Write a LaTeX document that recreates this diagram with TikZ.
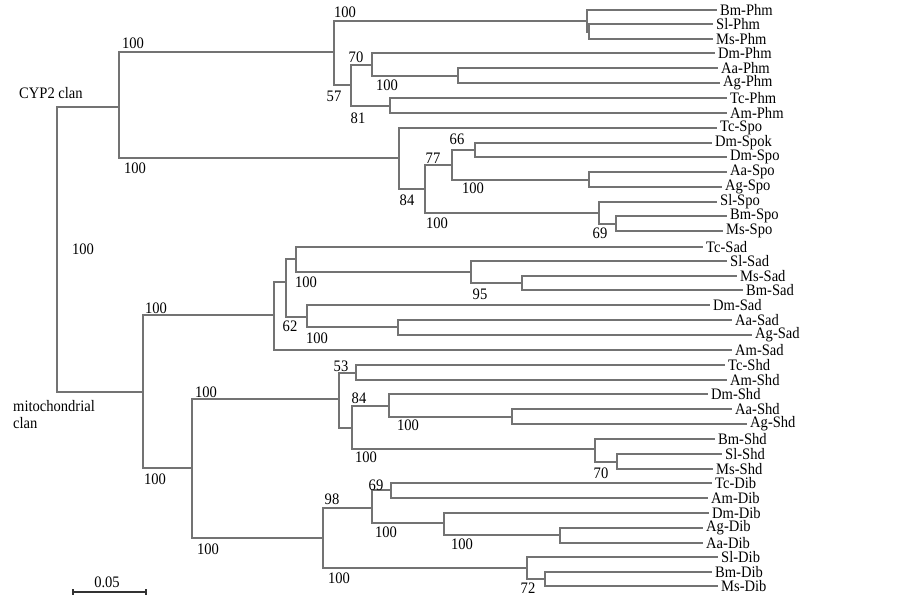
\documentclass[tikz,border=0pt]{standalone}
\usepackage{fontspec}
\setmainfont{Liberation Serif}[FakeStretch=0.91]
\usepackage{tikz}

\tikzset{
  br/.style={draw=black!55, line width=1.2pt},
  taxon/.style={anchor=west, inner xsep=3pt, inner ysep=0pt},
  bs/.style={inner sep=0pt}
}

\begin{document}
\begin{tikzpicture}[x=1pt,y=-1pt,font=\fontsize{16}{17}\selectfont]
\useasboundingbox (0,0) rectangle (902,596);

% inner nodes, CYP2 clan
\coordinate (r) at (57,250);
\coordinate (cyp) at (119,107);
\coordinate (phm) at (334,52);
\coordinate (bsm) at (587,21);
\coordinate (sm) at (589,32);
\coordinate (n57) at (351,85);
\coordinate (n70) at (372,65);
\coordinate (aag) at (458,76);
\coordinate (n81) at (390,106);
\coordinate (spo) at (399,158);
\coordinate (n77) at (425,189);
\coordinate (n66) at (452,165);
\coordinate (dsp) at (475,150);
\coordinate (aags) at (589,180);
\coordinate (n69) at (599,213);
\coordinate (bms) at (616,224);
% inner nodes, mitochondrial clan
\coordinate (mito) at (143,392);
\coordinate (sad) at (274,315);
\coordinate (s286) at (286,282);
\coordinate (s296) at (296,259);
\coordinate (s95) at (471,272);
\coordinate (msb) at (522,283);
\coordinate (s62) at (307,317);
\coordinate (aas) at (398,327);
\coordinate (mid) at (192,468);
\coordinate (shd) at (339,399);
\coordinate (n53) at (356,373);
\coordinate (n84) at (352,428);
\coordinate (h389) at (389,406);
\coordinate (h512) at (512,417);
\coordinate (h70) at (595,449);
\coordinate (h617) at (617,462);
\coordinate (dib) at (323,538);
\coordinate (d69) at (372,508);
\coordinate (d391) at (391,490);
\coordinate (d444) at (444,523);
\coordinate (d560) at (560,535);
\coordinate (d72) at (527,568);
\coordinate (d545) at (545,579);

% taxa
\node[taxon] (BmPhm) at (717,10) {Bm-Phm};
\node[taxon] (SlPhm) at (713,24) {Sl-Phm};
\node[taxon] (MsPhm) at (713,39) {Ms-Phm};
\node[taxon] (DmPhm) at (715,53) {Dm-Phm};
\node[taxon] (AaPhm) at (718,68) {Aa-Phm};
\node[taxon] (AgPhm) at (720,83) {Ag-Phm};
\node[taxon] (TcPhm) at (727,98) {Tc-Phm};
\node[taxon] (AmPhm) at (727,113) {Am-Phm};
\node[taxon] (TcSpo) at (717,128) {Tc-Spo};
\node[taxon] (DmSpok) at (712,143) {Dm-Spok};
\node[taxon] (DmSpo) at (727,157) {Dm-Spo};
\node[taxon] (AaSpo) at (727,172) {Aa-Spo};
\node[taxon] (AgSpo) at (722,187) {Ag-Spo};
\node[taxon] (SlSpo) at (717,202) {Sl-Spo};
\node[taxon] (BmSpo) at (727,216) {Bm-Spo};
\node[taxon] (MsSpo) at (723,231) {Ms-Spo};
\node[taxon] (TcSad) at (703,247) {Tc-Sad};
\node[taxon] (SlSad) at (727,261) {Sl-Sad};
\node[taxon] (MsSad) at (737,276) {Ms-Sad};
\node[taxon] (BmSad) at (743,290) {Bm-Sad};
\node[taxon] (DmSad) at (710,305) {Dm-Sad};
\node[taxon] (AaSad) at (732,320) {Aa-Sad};
\node[taxon] (AgSad) at (752,335) {Ag-Sad};
\node[taxon] (AmSad) at (732,350) {Am-Sad};
\node[taxon] (TcShd) at (725,365) {Tc-Shd};
\node[taxon] (AmShd) at (727,380) {Am-Shd};
\node[taxon] (DmShd) at (708,394) {Dm-Shd};
\node[taxon] (AaShd) at (732,409) {Aa-Shd};
\node[taxon] (AgShd) at (747,424) {Ag-Shd};
\node[taxon] (BmShd) at (715,439) {Bm-Shd};
\node[taxon] (SlShd) at (722,454) {Sl-Shd};
\node[taxon] (MsShd) at (713,469) {Ms-Shd};
\node[taxon] (TcDib) at (712,483) {Tc-Dib};
\node[taxon] (AmDib) at (708,498) {Am-Dib};
\node[taxon] (DmDib) at (709,513) {Dm-Dib};
\node[taxon] (AgDib) at (703,528) {Ag-Dib};
\node[taxon] (AaDib) at (703,543) {Aa-Dib};
\node[taxon] (SlDib) at (718,557) {Sl-Dib};
\node[taxon] (BmDib) at (712,572) {Bm-Dib};
\node[taxon] (MsDib) at (718,586) {Ms-Dib};

% branches
\draw[br] (r) |- (cyp) (r) |- (mito);
\draw[br] (cyp) |- (phm) (cyp) |- (spo);
\draw[br] (phm) |- (bsm) (phm) |- (n57);
\draw[br] (bsm) |- (BmPhm.west) (bsm) |- (sm);
\draw[br] (sm) |- (SlPhm.west) (sm) |- (MsPhm.west);
\draw[br] (n57) |- (n70) (n57) |- (n81);
\draw[br] (n70) |- (DmPhm.west) (n70) |- (aag);
\draw[br] (aag) |- (AaPhm.west) (aag) |- (AgPhm.west);
\draw[br] (n81) |- (TcPhm.west) (n81) |- (AmPhm.west);
\draw[br] (spo) |- (TcSpo.west) (spo) |- (n77);
\draw[br] (n77) |- (n66) (n77) |- (n69);
\draw[br] (n66) |- (dsp) (n66) |- (aags);
\draw[br] (dsp) |- (DmSpok.west) (dsp) |- (DmSpo.west);
\draw[br] (aags) |- (AaSpo.west) (aags) |- (AgSpo.west);
\draw[br] (n69) |- (SlSpo.west) (n69) |- (bms);
\draw[br] (bms) |- (BmSpo.west) (bms) |- (MsSpo.west);
\draw[br] (mito) |- (sad) (mito) |- (mid);
\draw[br] (sad) |- (s286) (sad) |- (AmSad.west);
\draw[br] (s286) |- (s296) (s286) |- (s62);
\draw[br] (s296) |- (TcSad.west) (s296) |- (s95);
\draw[br] (s95) |- (SlSad.west) (s95) |- (msb);
\draw[br] (msb) |- (MsSad.west) (msb) |- (BmSad.west);
\draw[br] (s62) |- (DmSad.west) (s62) |- (aas);
\draw[br] (aas) |- (AaSad.west) (aas) |- (AgSad.west);
\draw[br] (mid) |- (shd) (mid) |- (dib);
\draw[br] (shd) |- (n53) (shd) |- (n84);
\draw[br] (n53) |- (TcShd.west) (n53) |- (AmShd.west);
\draw[br] (n84) |- (h389) (n84) |- (h70);
\draw[br] (h389) |- (DmShd.west) (h389) |- (h512);
\draw[br] (h512) |- (AaShd.west) (h512) |- (AgShd.west);
\draw[br] (h70) |- (BmShd.west) (h70) |- (h617);
\draw[br] (h617) |- (SlShd.west) (h617) |- (MsShd.west);
\draw[br] (dib) |- (d69) (dib) |- (d72);
\draw[br] (d69) |- (d391) (d69) |- (d444);
\draw[br] (d391) |- (TcDib.west) (d391) |- (AmDib.west);
\draw[br] (d444) |- (DmDib.west) (d444) |- (d560);
\draw[br] (d560) |- (AgDib.west) (d560) |- (AaDib.west);
\draw[br] (d72) |- (SlDib.west) (d72) |- (d545);
\draw[br] (d545) |- (BmDib.west) (d545) |- (MsDib.west);

% bootstrap values
\node[bs] (b1) at (345,12) {100};
\node[bs] (b2) at (133,43) {100};
\node[bs] (b3) at (135,168) {100};
\node[bs] (b4) at (334,96) {57};
\node[bs] (b5) at (356,57) {70};
\node[bs] (b6) at (387,85) {100};
\node[bs] (b7) at (358,118) {81};
\node[bs] (b8) at (457,139) {66};
\node[bs] (b9) at (433,158) {77};
\node[bs] (b10) at (407,200) {84};
\node[bs] (b11) at (473,188) {100};
\node[bs] (b12) at (437,223) {100};
\node[bs] (b13) at (600,233) {69};
\node[bs] (b14) at (83,249) {100};
\node[bs] (b15) at (156,308) {100};
\node[bs] (b16) at (155,479) {100};
\node[bs] (b17) at (206,392) {100};
\node[bs] (b18) at (208,549) {100};
\node[bs] (b19) at (306,282) {100};
\node[bs] (b20) at (480,294) {95};
\node[bs] (b21) at (290,326) {62};
\node[bs] (b22) at (317,338) {100};
\node[bs] (b23) at (341,366) {53};
\node[bs] (b24) at (359,398) {84};
\node[bs] (b25) at (408,425) {100};
\node[bs] (b26) at (366,457) {100};
\node[bs] (b27) at (601,473) {70};
\node[bs] (b28) at (332,499) {98};
\node[bs] (b29) at (339,578) {100};
\node[bs] (b30) at (376,485) {69};
\node[bs] (b31) at (386,532) {100};
\node[bs] (b32) at (462,544) {100};
\node[bs] (b33) at (528,588) {72};

% clan names
\node[bs, anchor=west] (cypname) at (19,93) {CYP2 clan};
\node[bs, anchor=north west, align=left] (mitoname) at (13,400) {mitochondrial\\clan};

% scale bar
\coordinate (sb1) at (73,592);
\coordinate (sb2) at (146,592);
\draw[line width=1.2pt, black!80] (sb1) -- (sb2);
\draw[line width=1.2pt, black!80] (sb1) ++(0,-3) -- ++(0,6);
\draw[line width=1.2pt, black!80] (sb2) ++(0,-3) -- ++(0,6);
\node[bs] (sbval) at (107,582) {0.05};
\end{tikzpicture}
\end{document}
